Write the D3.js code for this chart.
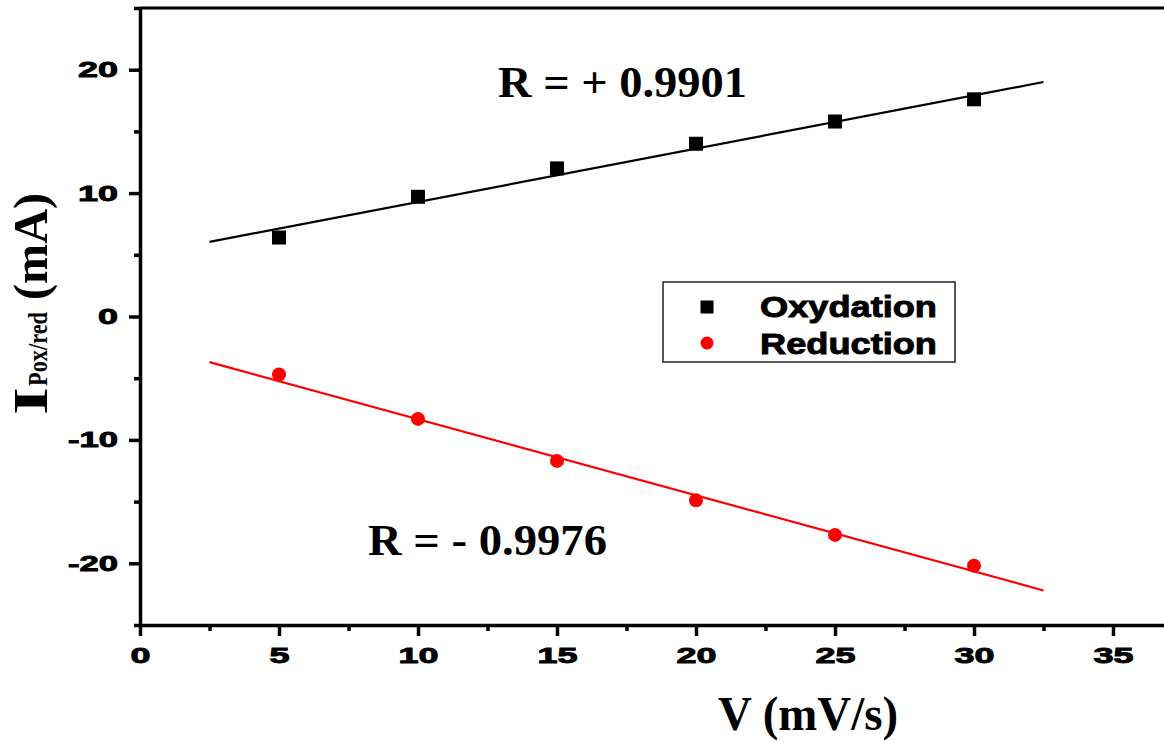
<!DOCTYPE html>
<html>
<head>
<meta charset="utf-8">
<script src="https://cdn.jsdelivr.net/npm/d3@7"></script>
<style>
  body { margin: 0; background: #fff; }
  svg { display: block; }
</style>
</head>
<body>
<div id="chart"></div>
<script>
// data
var speeds = [5, 10, 15, 20, 25, 30];
var oxydation = [6.4, 9.7, 12.0, 14.0, 15.8, 17.6];
var reduction = [-4.7, -8.3, -11.7, -14.9, -17.7, -20.2];

// fitted lines (end points)
var fitX = [2.5, 32.5];
var oxFitY = [6.05, 19.0];
var redFitY = [-3.7, -22.2];

var xTicks = [0, 5, 10, 15, 20, 25, 30, 35];
var xMinor = [2.5, 7.5, 12.5, 17.5, 22.5, 27.5, 32.5, 37.5];
var yTicks = [-20, -10, 0, 10, 20];
var yMinor = [-25, -15, -5, 5, 15, 25];

var seriesNames = ["Oxydation", "Reduction"];
var seriesColors = ["#000000", "#ff0000"];

// svg size
var svgWidth = 1164;
var svgHeight = 742;

var svg = d3.select("#chart")
    .append("svg")
    .attr("width", svgWidth)
    .attr("height", svgHeight);

// scales
var x = d3.scaleLinear()
    .domain([0, 38])
    .range([140, 140 + 38 * 27.8]);

var y = d3.scaleLinear()
    .domain([-25, 25])
    .range([625, 8]);

var tickFont = "'Liberation Sans', Arial, sans-serif";
var serif = "'Liberation Serif', 'Times New Roman', serif";

// stretch the heavy tick labels like in the picture
function stretchLabels(sel) {
    sel.selectAll("text")
        .attr("font-family", tickFont)
        .attr("font-weight", "bold")
        .attr("font-size", 22)
        .attr("fill", "#000")
        .attr("stroke", "#000")
        .attr("stroke-width", 0.9)
        .attr("lengthAdjust", "spacingAndGlyphs")
        .attr("textLength", function(d) {
            var s = String(d);
            var w = 0;
            for (var i = 0; i < s.length; i++) w += (s[i] === "-" ? 10 : 20);
            return w;
        });
}

// top frame line
svg.append("line")
    .attr("x1", x(0))
    .attr("x2", x(38))
    .attr("y1", y(25))
    .attr("y2", y(25))
    .attr("stroke", "#000")
    .attr("stroke-width", 3);

// minor ticks
svg.append("g")
    .attr("transform", `translate(0, ${y(-25)})`)
    .call(d3.axisBottom(x).tickValues(xMinor).tickSize(6).tickSizeOuter(0).tickFormat(""))
    .call(g => g.select(".domain").remove())
    .call(g => g.selectAll("line").attr("stroke-width", 3.5));

svg.append("g")
    .attr("transform", `translate(${x(0)}, 0)`)
    .call(d3.axisLeft(y).tickValues(yMinor).tickSize(6).tickSizeOuter(0).tickFormat(""))
    .call(g => g.select(".domain").remove())
    .call(g => g.selectAll("line").attr("stroke-width", 3.5));

// x axis
var xAxis = svg.append("g")
    .attr("transform", `translate(0, ${y(-25)})`)
    .call(d3.axisBottom(x).tickValues(xTicks).tickSize(11).tickPadding(11)
        .tickSizeOuter(0).tickFormat(d => String(d)));
xAxis.select(".domain").attr("stroke-width", 3.5);
xAxis.selectAll(".tick line").attr("stroke-width", 3.5);
stretchLabels(xAxis);

// y axis
var yAxis = svg.append("g")
    .attr("transform", `translate(${x(0)}, 0)`)
    .call(d3.axisLeft(y).tickValues(yTicks).tickSize(11).tickPadding(11)
        .tickSizeOuter(0).tickFormat(d => String(d)));
yAxis.select(".domain").attr("stroke-width", 3.5);
yAxis.selectAll(".tick line").attr("stroke-width", 3.5);
stretchLabels(yAxis);

// fit lines
var line = d3.line()
    .x(d => x(d[0]))
    .y(d => y(d[1]));

svg.append("path")
    .datum(fitX.map((v, i) => [v, oxFitY[i]]))
    .attr("d", line)
    .attr("fill", "none")
    .attr("stroke", seriesColors[0])
    .attr("stroke-width", 2.2);

svg.append("path")
    .datum(fitX.map((v, i) => [v, redFitY[i]]))
    .attr("d", line)
    .attr("fill", "none")
    .attr("stroke", seriesColors[1])
    .attr("stroke-width", 2.2);

// oxydation points (squares)
svg.selectAll(".ox")
    .data(speeds)
    .enter()
    .append("rect")
    .attr("class", "ox")
    .attr("x", (d, i) => x(d) - 7)
    .attr("y", (d, i) => y(oxydation[i]) - 7)
    .attr("width", 14)
    .attr("height", 14)
    .attr("fill", seriesColors[0]);

// reduction points (circles)
svg.selectAll(".red")
    .data(speeds)
    .enter()
    .append("circle")
    .attr("class", "red")
    .attr("cx", d => x(d))
    .attr("cy", (d, i) => y(reduction[i]))
    .attr("r", 7)
    .attr("fill", seriesColors[1]);

// R annotations
svg.append("text")
    .attr("x", 498)
    .attr("y", 97)
    .attr("font-family", serif)
    .attr("font-weight", "bold")
    .attr("font-size", 44)
    .attr("textLength", 249)
    .attr("lengthAdjust", "spacingAndGlyphs")
    .text("R = + 0.9901");

svg.append("text")
    .attr("x", 368)
    .attr("y", 555)
    .attr("font-family", serif)
    .attr("font-weight", "bold")
    .attr("font-size", 44)
    .attr("textLength", 239)
    .attr("lengthAdjust", "spacingAndGlyphs")
    .text("R = - 0.9976");

// legend
var legend = svg.append("g");
legend.append("rect")
    .attr("x", 663)
    .attr("y", 282)
    .attr("width", 292)
    .attr("height", 80)
    .attr("fill", "#fff")
    .attr("stroke", "#222")
    .attr("stroke-width", 1.5);

legend.append("rect")
    .attr("x", 707 - 6.5)
    .attr("y", 307 - 6.5)
    .attr("width", 13)
    .attr("height", 13)
    .attr("fill", seriesColors[0]);

legend.append("circle")
    .attr("cx", 707)
    .attr("cy", 343)
    .attr("r", 6.5)
    .attr("fill", seriesColors[1]);

legend.selectAll(".legtext")
    .data(seriesNames)
    .enter()
    .append("text")
    .attr("x", 760)
    .attr("y", (d, i) => 317 + i * 37)
    .attr("font-family", tickFont)
    .attr("font-weight", "bold")
    .attr("font-size", 29)
    .attr("stroke", "#000")
    .attr("stroke-width", 0.9)
    .attr("textLength", 177)
    .attr("lengthAdjust", "spacingAndGlyphs")
    .text(d => d);

// x axis label
svg.append("text")
    .attr("x", 718)
    .attr("y", 730)
    .attr("font-family", serif)
    .attr("font-weight", "bold")
    .attr("font-size", 48)
    .attr("textLength", 180)
    .attr("lengthAdjust", "spacingAndGlyphs")
    .text("V (mV/s)");

// y axis label, rotated
var yLabel = svg.append("g")
    .attr("transform", "translate(47, 415) rotate(-90)")
    .attr("font-family", serif)
    .attr("font-weight", "bold");

yLabel.append("text")
    .attr("x", 0)
    .attr("y", 0)
    .attr("font-size", 48)
    .attr("textLength", 28)
    .attr("lengthAdjust", "spacingAndGlyphs")
    .text("I");

yLabel.append("text")
    .attr("x", 29)
    .attr("y", 0)
    .attr("font-size", 27)
    .attr("textLength", 74)
    .attr("lengthAdjust", "spacingAndGlyphs")
    .text("Pox/red");

yLabel.append("text")
    .attr("x", 115)
    .attr("y", 0)
    .attr("font-size", 48)
    .attr("textLength", 107)
    .attr("lengthAdjust", "spacingAndGlyphs")
    .text("(mA)");
</script>
</body>
</html>
